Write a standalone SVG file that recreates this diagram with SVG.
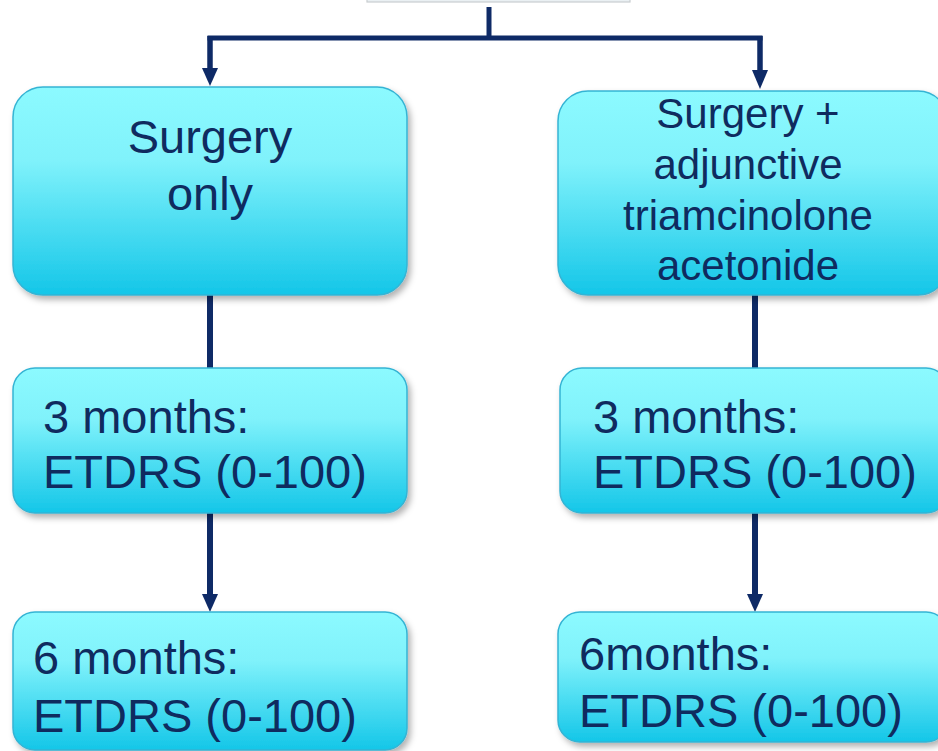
<svg xmlns="http://www.w3.org/2000/svg" width="938" height="751" viewBox="0 0 938 751">
<defs>
<linearGradient id="boxGrad" x1="0" y1="0" x2="0" y2="1">
<stop offset="0" stop-color="#8cfaff"/>
<stop offset="0.35" stop-color="#80f2fb"/>
<stop offset="1" stop-color="#14c6e8"/>
</linearGradient>
<filter id="shadow" x="-10%" y="-10%" width="125%" height="130%">
<feDropShadow dx="3" dy="4" stdDeviation="3" flood-color="#000" flood-opacity="0.3"/>
</filter>
</defs>
<style>
.box{fill:url(#boxGrad);stroke:#35b4d4;stroke-width:1.5;filter:url(#shadow);}
.lbl{font-family:"Liberation Sans",Arial,sans-serif;fill:#0f2b5f;}
.conn{stroke:#0e2a66;stroke-width:5;fill:none;}
.head{fill:#0e2a66;}
</style>
<g id="top-node">
<rect x="367" y="-12" width="263" height="14" fill="#eaf0f3" stroke="#c9cdd0" stroke-width="1.2"/>
</g>
<g id="connectors">
<path class="conn" d="M489,7 V38"/>
<path class="conn" d="M210,38 H760" stroke-linecap="square"/>
<path class="conn" d="M210,36 V70" style="stroke-width:5.5"/>
<polygon class="head" points="202,68 218,68 210,86"/>
<path class="conn" d="M760,36 V72" style="stroke-width:5.5"/>
<polygon class="head" points="752,70 768,70 760,89"/>
<path class="conn" d="M210,295 V368" style="stroke-width:6"/>
<path class="conn" d="M210,513 V596" style="stroke-width:6"/>
<polygon class="head" points="202,594 218,594 210,612"/>
<path class="conn" d="M755,295 V368" style="stroke-width:6"/>
<path class="conn" d="M755,513 V596" style="stroke-width:6"/>
<polygon class="head" points="747,594 763,594 755,612"/>
</g>
<g id="surgery-only">
<rect class="box" x="13" y="87" width="394" height="208" rx="30"/>
<text class="lbl" x="210" y="153" font-size="47" text-anchor="middle">Surgery</text>
<text class="lbl" x="210" y="210" font-size="47" text-anchor="middle">only</text>
</g>
<g id="surgery-tac">
<rect class="box" x="558" y="91" width="390" height="204" rx="30"/>
<text class="lbl" x="748" y="128" font-size="42" text-anchor="middle">Surgery +</text>
<text class="lbl" x="748" y="179" font-size="42" text-anchor="middle">adjunctive</text>
<text class="lbl" x="748" y="230" font-size="42" text-anchor="middle">triamcinolone</text>
<text class="lbl" x="748" y="280" font-size="42" text-anchor="middle">acetonide</text>
</g>
<g id="left-3m">
<rect class="box" x="13" y="368" width="394" height="145" rx="22"/>
<text class="lbl" x="43" y="433" font-size="47">3 months:</text>
<text class="lbl" x="43" y="488" font-size="47">ETDRS (0-100)</text>
</g>
<g id="right-3m">
<rect class="box" x="560" y="368" width="388" height="145" rx="22"/>
<text class="lbl" x="593" y="433" font-size="47">3 months:</text>
<text class="lbl" x="593" y="488" font-size="47">ETDRS (0-100)</text>
</g>
<g id="left-6m">
<rect class="box" x="13" y="612" width="394" height="138" rx="22"/>
<text class="lbl" x="33" y="674" font-size="47">6 months:</text>
<text class="lbl" x="33" y="732" font-size="47">ETDRS (0-100)</text>
</g>
<g id="right-6m">
<rect class="box" x="558" y="612" width="390" height="130" rx="22"/>
<text class="lbl" x="579" y="670" font-size="47">6months:</text>
<text class="lbl" x="579" y="727" font-size="47">ETDRS (0-100)</text>
</g>
</svg>
